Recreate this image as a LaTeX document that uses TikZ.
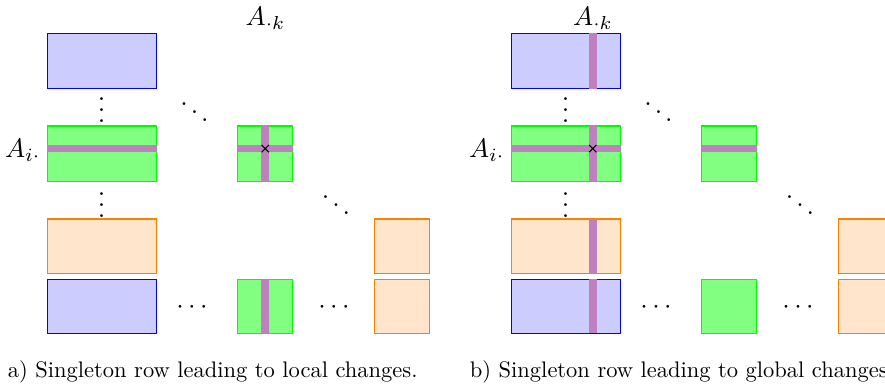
\documentclass[tikz,border=0pt]{standalone}
% three stacked dots without the extra top kern of \vdots
\newcommand\stackdots{\vbox{\baselineskip4pt\lineskiplimit0pt\hbox{.}\hbox{.}\hbox{.}}}
\begin{document}
\begin{tikzpicture}[x=0.4444pt,y=-0.4444pt,
  blueblk/.style={draw=blue,fill=blue!20,line width=0.45pt},
  greenblk/.style={draw=green,fill=green!50,line width=0.45pt},
  orangeblk/.style={draw=orange,fill=orange!20,line width=0.45pt},
  band/.style={draw=violet!50,line width=3.4pt},
  crossmark/.style={draw=black,line width=0.45pt},
  dotsnode/.style={inner sep=0pt,scale=1.19,anchor=base},
  lbl/.style={inner sep=0pt,scale=1.19},
  caption/.style={inner sep=0pt,anchor=base west,font=\fontsize{10}{12}\selectfont}]
\useasboundingbox (0,0) rectangle (885,387);
\clip (0,0) rectangle (885,387);

% ---------- panel a) ----------
\begin{scope}
  % blocks
  \path[blueblk]   (47.3,33.3)  rectangle (156.7,88.7);
  \path[greenblk]  (47.3,126)   rectangle (156.7,181.3);
  \path[greenblk]  (237.7,126)  rectangle (292.7,181.3);
  \path[orangeblk] (47.3,219)   rectangle (156.7,273.3);
  \path[orangeblk] (374,219)    rectangle (429,273.3);
  \path[blueblk]   (47.3,279)   rectangle (156.7,333.3);
  \path[greenblk]  (237.7,279)  rectangle (292.7,333.3);
  \path[orangeblk] (374,279)    rectangle (429,333.3);
  % row i and column k
  \coordinate (ax) at (265.2,148.6);
  \path[band] (47.3,148.6) -- (156.7,148.6);
  \path[band] (237.7,148.6) -- (292.7,148.6);
  \path[band] (265.2,126) -- (265.2,181.3);
  \path[band] (265.2,279) -- (265.2,333.3);
  \path[crossmark] (ax) +(-3.6,-3.6) -- +(3.6,3.6) (ax) +(-3.6,3.6) -- +(3.6,-3.6);
  % labels
  \node[lbl,anchor=base] (ak) at (265.5,25.5) {$A_{\cdot k}$};
  \node[lbl,anchor=base east] (ai) at (41,157) {$A_{i\cdot}$};
  % ellipses
  \node[dotsnode] (va1) at (101.5,122.1) {\stackdots};
  \node[dotsnode] (va2) at (101.5,217.1) {\stackdots};
  \node[dotsnode] (da1) at (194.5,124.6) {$\ddots$};
  \node[dotsnode] (da2) at (336,217.1) {$\ddots$};
  \node[dotsnode] (ca1) at (192,313.4) {$\cdots$};
  \node[dotsnode] (ca2) at (334,313.4) {$\cdots$};
  \node[caption] (capa) at (7.5,377) {a) Singleton row leading to local changes.};
\end{scope}

% ---------- panel b) ----------
\begin{scope}[shift={(464,0)}]
  % blocks
  \path[blueblk]   (47.3,33.3)  rectangle (156.7,88.7);
  \path[greenblk]  (47.3,126)   rectangle (156.7,181.3);
  \path[greenblk]  (237.7,126)  rectangle (292.7,181.3);
  \path[orangeblk] (47.3,219)   rectangle (156.7,273.3);
  \path[orangeblk] (374,219)    rectangle (429,273.3);
  \path[blueblk]   (47.3,279)   rectangle (156.7,333.3);
  \path[greenblk]  (237.7,279)  rectangle (292.7,333.3);
  \path[orangeblk] (374,279)    rectangle (429,333.3);
  % row i and column k
  \coordinate (bx) at (128.8,148.6);
  \path[band] (47.3,148.6) -- (156.7,148.6);
  \path[band] (237.7,148.6) -- (292.7,148.6);
  \path[band] (128.8,33.3) -- (128.8,88.7);
  \path[band] (128.8,126) -- (128.8,181.3);
  \path[band] (128.8,219) -- (128.8,273.3);
  \path[band] (128.8,279) -- (128.8,333.3);
  \path[crossmark] (bx) +(-3.6,-3.6) -- +(3.6,3.6) (bx) +(-3.6,3.6) -- +(3.6,-3.6);
  % labels
  \node[lbl,anchor=base] (bk) at (129,25.5) {$A_{\cdot k}$};
  \node[lbl,anchor=base east] (bi) at (41,157) {$A_{i\cdot}$};
  % ellipses
  \node[dotsnode] (vb1) at (101.5,122.1) {\stackdots};
  \node[dotsnode] (vb2) at (101.5,217.1) {\stackdots};
  \node[dotsnode] (db1) at (194.5,124.6) {$\ddots$};
  \node[dotsnode] (db2) at (336,217.1) {$\ddots$};
  \node[dotsnode] (cb1) at (192,313.4) {$\cdots$};
  \node[dotsnode] (cb2) at (334,313.4) {$\cdots$};
  \node[caption] (capb) at (5.5,377) {b) Singleton row leading to global changes.};
\end{scope}
\end{tikzpicture}
\end{document}
